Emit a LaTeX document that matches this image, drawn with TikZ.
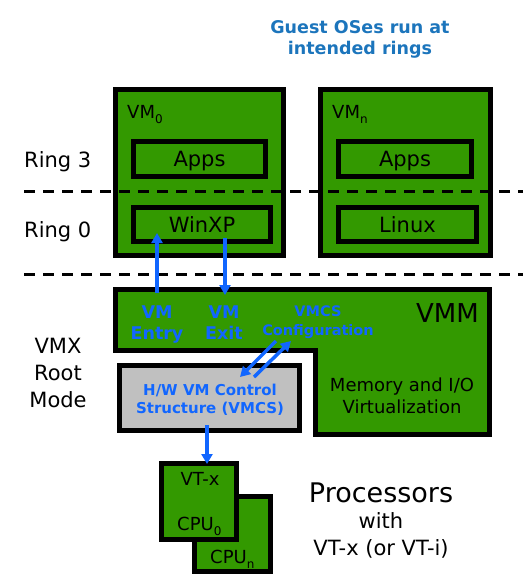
\documentclass[tikz,border=0pt]{standalone}
\usepackage{fontspec}
\setmainfont{DejaVu Sans}
\usetikzlibrary{arrows.meta}
\definecolor{vmgreen}{RGB}{51,153,0}
\definecolor{hwgray}{RGB}{192,192,192}
\definecolor{flowblue}{RGB}{17,102,255}
\definecolor{titleblue}{RGB}{28,117,188}
\newcommand\subidx[1]{\raisebox{-5pt}{\fontsize{12}{12}\selectfont #1}}
\tikzset{
  box/.style={draw=black, line width=5pt, fill=vmgreen, inner sep=0pt,
    text depth=0pt, font=\fontsize{21}{25}\selectfont},
  lbl/.style={inner sep=0pt, font=\fontsize{18}{22}\selectfont},
  blbl/.style={inner sep=0pt, text=flowblue, align=center,
    font=\bfseries\fontsize{17.5}{21}\selectfont},
  flow/.style={draw=flowblue, line width=3.5pt,
    -{Triangle[length=10pt,width=11pt]}},
  ring/.style={line width=3pt, dash pattern=on 11pt off 8pt}
}
\begin{document}
\begin{tikzpicture}[x=1pt,y=-1pt]
  \useasboundingbox (0,0) rectangle (523,582);
  % guest VMs
  \node[box, minimum width=168pt, minimum height=166pt] (vm0) at (199.5,172.5) {};
  \node[box, minimum width=170pt, minimum height=166pt] (vmn) at (405.5,172.5) {};
  \node[box, minimum width=132pt, minimum height=35pt] (apps0) at (199.5,159) {Apps};
  \node[box, minimum width=137pt, minimum height=34pt] (winxp) at (202,224.5) {WinXP};
  \node[box, minimum width=133pt, minimum height=35pt] (appsn) at (405,159) {Apps};
  \node[box, minimum width=138pt, minimum height=34pt] (linux) at (407.5,224.5) {Linux};
  % VMM and VMCS
  \draw[box] (115.5,289.5) -- (489.5,289.5) -- (489.5,434.5) -- (315.5,434.5)
    -- (315.5,350.5) -- (115.5,350.5) -- cycle;
  \node[box, fill=hwgray, minimum width=180pt, minimum height=65pt] (vmcs) at (209.5,398) {};
  % processors
  \node[box, minimum width=76pt, minimum height=75pt] (cpun) at (232.5,534) {};
  \node[box, minimum width=75pt, minimum height=76pt] (cpu0) at (199,501.5) {};
  % ring boundaries
  \draw[ring] (24,191) -- (523,191);
  \draw[ring] (24,274) -- (523,274);
  % transitions
  \coordinate (entrytail) at (157,293);
  \coordinate (exithead) at (225,295);
  \coordinate (cfgout) at (276,341);
  \coordinate (cfgin) at (291,341);
  \draw[flow] (entrytail) -- ([yshift=11pt]entrytail |- winxp.south);
  \draw[flow] ([yshift=6pt]exithead |- winxp.south) -- (exithead);
  \draw[flow] (cfgout) -- ++(-36,36);
  \draw[flow] (cfgin) ++(-37,36) -- (cfgin);
  \draw[flow] ([xshift=-2.5pt,yshift=8pt]vmcs.south) -- ([xshift=-2.5pt,yshift=-3pt]vmcs.south |- cpu0.north);
  % labels
  \node[lbl, text=titleblue, align=center, anchor=base,
    font=\bfseries\fontsize{17.5}{21}\selectfont] (title) at (360,54) {Guest OSes run at\\intended rings};
  \node[lbl, font=\fontsize{21}{27}\selectfont, anchor=base west] (ring3) at (24,167) {Ring 3};
  \node[lbl, font=\fontsize{21}{27}\selectfont, anchor=base west] (ring0) at (24,237) {Ring 0};
  \node[lbl, font=\fontsize{21}{27}\selectfont, align=center, anchor=base] (vmx) at (58,407) {VMX\\Root\\Mode};
  \node[lbl, anchor=base west] (vm0name) at (127,118) {VM\subidx{0}};
  \node[lbl, anchor=base west] (vmnname) at (332,118) {VM\subidx{n}};
  \node[lbl, font=\fontsize{26}{30}\selectfont, anchor=base east] (vmmname) at (479,322) {VMM};
  \node[lbl, align=center, anchor=base] (memio) at (402,413) {Memory and I/O\\Virtualization};
  \node[blbl, anchor=base] (entry) at (157,339) {VM\\Entry};
  \node[blbl, anchor=base] (exit) at (224,339) {VM\\Exit};
  \node[blbl, anchor=base, font=\bfseries\fontsize{14.5}{19}\selectfont] (vmcscfg) at (318,335) {VMCS\\Configuration};
  \node[blbl, anchor=base, font=\bfseries\fontsize{15}{18}\selectfont] (vmcsname) at (210,413) {H/W VM Control\\Structure (VMCS)};
  \node[lbl, anchor=base] (vtx) at (200,485) {VT-x};
  \node[lbl, anchor=base west] (cpu0name) at (177,530) {CPU\subidx{0}};
  \node[lbl, anchor=base west] (cpunname) at (210,563) {CPU\subidx{n}};
  \node[lbl, font=\fontsize{27}{32}\selectfont, anchor=base] (proc) at (381,502) {Processors};
  \node[lbl, font=\fontsize{21}{27}\selectfont, anchor=base] (procwith) at (381,528) {with};
  \node[lbl, font=\fontsize{21}{27}\selectfont, anchor=base] (procvt) at (381,555) {VT-x (or VT-i)};
\end{tikzpicture}
\end{document}
